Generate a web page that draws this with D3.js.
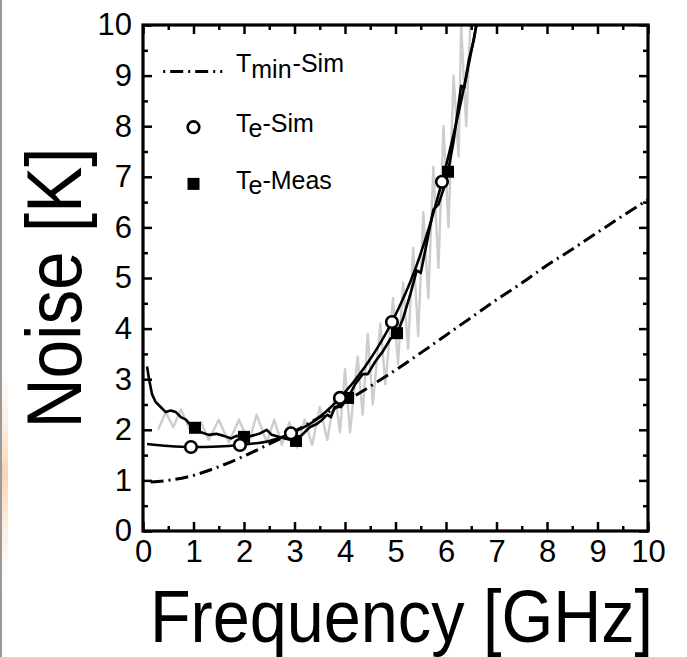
<!DOCTYPE html>
<html>
<head>
<meta charset="utf-8">
<script src="https://cdn.jsdelivr.net/npm/d3@7"></script>
<style>
  html, body { margin: 0; padding: 0; background: #fff; }
  svg { display: block; }
  text { font-family: "Liberation Sans", Arial, Helvetica, sans-serif; fill: #000; }
</style>
</head>
<body>
<svg id="chart" width="687" height="657"></svg>
<script>
// ---------------- DATA ----------------
const freqTicks = [0, 1, 2, 3, 4, 5, 6, 7, 8, 9, 10];
const noiseTicks = [0, 1, 2, 3, 4, 5, 6, 7, 8, 9, 10];
const xLabel = "Frequency [GHz]";
const yLabel = "Noise [K]";

// Tmin-Sim (dash-dot)
const tminFreq = [0.15, 0.5, 1.0, 1.5, 2.0, 2.5, 3.0, 3.5, 4.0, 4.5, 5.0, 5.5, 6.0, 6.5, 7.0, 7.5, 8.0, 8.5, 9.0, 9.5, 10.0];
const tminVal  = [0.97, 1.0, 1.1, 1.27, 1.48, 1.72, 1.97, 2.25, 2.55, 2.86, 3.18, 3.52, 3.87, 4.22, 4.57, 4.9, 5.25, 5.57, 5.9, 6.23, 6.55];

// Te-Sim smooth line
const simFreq = [0.08, 0.5, 0.95, 1.5, 1.92, 2.5, 2.93, 3.4, 3.9, 4.4, 4.93, 5.4, 5.92, 6.3, 6.7];
const simVal  = [1.72, 1.68, 1.66, 1.67, 1.70, 1.78, 1.93, 2.18, 2.63, 3.25, 4.13, 5.2, 6.9, 8.5, 10.5];
// Te-Sim markers
const simMarkFreq = [0.95, 1.92, 2.93, 3.9, 4.93, 5.92];
const simMarkVal  = [1.66, 1.70, 1.93, 2.63, 4.13, 6.9];

// Te-Meas (smoothed measured line)
const measFreq = [0.08, 0.12, 0.18, 0.25, 0.35, 0.45, 0.55, 0.65, 0.75, 0.85, 0.95, 1.03, 1.15, 1.3, 1.45, 1.6, 1.75, 1.85, 2.0, 2.15, 2.3, 2.45, 2.55, 2.7, 2.85, 3.03, 3.15, 3.3, 3.45, 3.55, 3.65, 3.72, 3.8, 3.92, 4.06, 4.2, 4.35, 4.45, 4.6, 4.75, 4.9, 5.03, 5.15, 5.3, 5.42, 5.5, 5.6, 5.75, 5.85, 5.95, 6.04, 6.15, 6.3, 6.36, 6.45, 6.55, 6.65];
const measVal  = [3.25, 3.0, 2.7, 2.55, 2.45, 2.35, 2.38, 2.35, 2.25, 2.2, 2.08, 2.04, 1.95, 1.9, 1.92, 1.88, 1.83, 1.88, 1.86, 1.88, 1.92, 2.0, 1.9, 1.86, 1.82, 1.78, 1.9, 2.05, 2.12, 2.2, 2.3, 2.25, 2.45, 2.45, 2.63, 2.9, 3.1, 3.1, 3.35, 3.55, 3.8, 3.91, 4.2, 4.7, 5.15, 5.1, 5.6, 6.35, 6.45, 6.75, 7.1, 7.7, 8.8, 8.75, 9.3, 9.7, 10.3];
// Te-Meas markers
const measMarkFreq = [1.03, 2.0, 3.03, 4.06, 5.03, 6.04];
const measMarkVal  = [2.04, 1.86, 1.78, 2.63, 3.91, 7.1];

// Raw measured trace (light grey)
const rawFreq = [0.3, 0.45, 0.6, 0.75, 0.95, 1.15, 1.3, 1.5, 1.7, 1.9, 2.1, 2.25, 2.45, 2.6, 2.75, 2.9, 3.05, 3.2, 3.35, 3.5, 3.65, 3.8, 3.9, 4.0, 4.1, 4.25, 4.35, 4.45, 4.55, 4.7, 4.8, 4.95, 5.05, 5.15, 5.25, 5.35, 5.45, 5.55, 5.65, 5.75, 5.85, 5.95, 6.05, 6.15, 6.25, 6.3, 6.4, 6.5];
const rawVal  = [2.0, 2.35, 2.05, 2.4, 1.95, 2.15, 1.8, 2.2, 1.75, 2.2, 1.75, 2.3, 1.75, 2.2, 1.7, 2.15, 1.65, 2.2, 1.7, 2.45, 1.8, 2.7, 1.95, 3.2, 1.95, 3.45, 2.3, 3.9, 2.5, 4.1, 2.9, 4.6, 3.3, 4.9, 3.6, 5.6, 3.85, 6.3, 4.6, 7.2, 5.2, 8.0, 6.0, 9.0, 7.4, 10.0, 8.0, 10.5];

// Legend
const legendLabels = ["T", "min", "-Sim", "e", "-Meas"];

// ---------------- LAYOUT ----------------
const svg = d3.select("#chart");
const plot = { left: 143, right: 648, top: 25, bottom: 531 };

const x = d3.scaleLinear().domain([0, 10]).range([plot.left, plot.right]);
const y = d3.scaleLinear().domain([0, 10]).range([plot.bottom, plot.top]);

// left edge artifacts of scanned figure
const defs = svg.append("defs");
const grad = defs.append("linearGradient").attr("id", "edgeGlow")
  .attr("x1", 0).attr("x2", 0).attr("y1", 0).attr("y2", 1);
grad.append("stop").attr("offset", "0%").attr("stop-color", "#fbe3cf").attr("stop-opacity", 0);
grad.append("stop").attr("offset", "50%").attr("stop-color", "#f6c9a4").attr("stop-opacity", 0.8);
grad.append("stop").attr("offset", "100%").attr("stop-color", "#fbe3cf").attr("stop-opacity", 0);
svg.append("rect").attr("x", 2).attr("y", 360).attr("width", 6).attr("height", 230).attr("fill", "url(#edgeGlow)");
svg.append("line").attr("x1", 1).attr("x2", 1).attr("y1", 0).attr("y2", 657)
  .attr("stroke", "#9a9a9a").attr("stroke-width", 2);

defs.append("clipPath").attr("id", "clip")
  .append("rect").attr("x", plot.left).attr("y", plot.top)
  .attr("width", plot.right - plot.left).attr("height", plot.bottom - plot.top);

const dataG = svg.append("g").attr("clip-path", "url(#clip)");

const straight = d3.line().x(d => x(d[0])).y(d => y(d[1]));
const smooth = d3.line().x(d => x(d[0])).y(d => y(d[1])).curve(d3.curveMonotoneX);

// raw grey trace
dataG.append("path")
  .datum(d3.zip(rawFreq, rawVal))
  .attr("d", straight)
  .attr("fill", "none").attr("stroke", "#cdcdcd").attr("stroke-width", 2.4)
  .attr("stroke-linejoin", "round");

// Tmin dash-dot
dataG.append("path")
  .datum(d3.zip(tminFreq, tminVal))
  .attr("d", smooth)
  .attr("fill", "none").attr("stroke", "#000").attr("stroke-width", 3)
  .attr("stroke-dasharray", "13,5,2,5");

// Te-Sim smooth line
dataG.append("path")
  .datum(d3.zip(simFreq, simVal))
  .attr("d", smooth)
  .attr("fill", "none").attr("stroke", "#000").attr("stroke-width", 2.6);

// Te-Meas line
dataG.append("path")
  .datum(d3.zip(measFreq, measVal))
  .attr("d", straight)
  .attr("fill", "none").attr("stroke", "#000").attr("stroke-width", 2.6)
  .attr("stroke-linejoin", "round");

// Markers: squares (meas)
dataG.selectAll("rect.meas").data(d3.zip(measMarkFreq, measMarkVal)).enter()
  .append("rect").attr("class", "meas")
  .attr("x", d => x(d[0]) - 6).attr("y", d => y(d[1]) - 6)
  .attr("width", 12).attr("height", 12).attr("fill", "#000");

// Markers: circles (sim)
dataG.selectAll("circle.sim").data(d3.zip(simMarkFreq, simMarkVal)).enter()
  .append("circle").attr("class", "sim")
  .attr("cx", d => x(d[0])).attr("cy", d => y(d[1])).attr("r", 5.8)
  .attr("fill", "#fff").attr("stroke", "#000").attr("stroke-width", 2.6);

// ---------------- AXES / FRAME ----------------
const halfTicks = d3.range(0.5, 10, 1);
function styleAxis(g) {
  g.select(".domain").remove();
  g.selectAll(".tick line").attr("stroke", "#000").attr("stroke-width", 2.5);
}
// bottom with labels
svg.append("g").attr("transform", `translate(0,${plot.bottom})`)
  .call(d3.axisBottom(x).tickValues(freqTicks).tickFormat(d3.format("d")).tickSizeInner(-9).tickSizeOuter(0).tickPadding(9))
  .call(styleAxis)
  .selectAll("text").attr("font-size", 31).attr("font-family", "'Liberation Sans', Arial, sans-serif").attr("fill", "#000");
svg.append("g").attr("transform", `translate(0,${plot.bottom})`)
  .call(d3.axisBottom(x).tickValues(halfTicks).tickFormat("").tickSizeInner(-5).tickSizeOuter(0))
  .call(styleAxis);
// top
svg.append("g").attr("transform", `translate(0,${plot.top})`)
  .call(d3.axisTop(x).tickValues(freqTicks).tickFormat("").tickSizeInner(-9).tickSizeOuter(0))
  .call(styleAxis);
svg.append("g").attr("transform", `translate(0,${plot.top})`)
  .call(d3.axisTop(x).tickValues(halfTicks).tickFormat("").tickSizeInner(-5).tickSizeOuter(0))
  .call(styleAxis);
// left with labels
svg.append("g").attr("transform", `translate(${plot.left},0)`)
  .call(d3.axisLeft(y).tickValues(noiseTicks).tickFormat(d3.format("d")).tickSizeInner(-9).tickSizeOuter(0).tickPadding(11))
  .call(styleAxis)
  .selectAll("text").attr("font-size", 31).attr("font-family", "'Liberation Sans', Arial, sans-serif").attr("fill", "#000");
svg.append("g").attr("transform", `translate(${plot.left},0)`)
  .call(d3.axisLeft(y).tickValues(halfTicks).tickFormat("").tickSizeInner(-5).tickSizeOuter(0))
  .call(styleAxis);
// right
svg.append("g").attr("transform", `translate(${plot.right},0)`)
  .call(d3.axisRight(y).tickValues(noiseTicks).tickFormat("").tickSizeInner(-9).tickSizeOuter(0))
  .call(styleAxis);
svg.append("g").attr("transform", `translate(${plot.right},0)`)
  .call(d3.axisRight(y).tickValues(halfTicks).tickFormat("").tickSizeInner(-5).tickSizeOuter(0))
  .call(styleAxis);

// frame
svg.append("rect").attr("x", plot.left).attr("y", plot.top)
  .attr("width", plot.right - plot.left).attr("height", plot.bottom - plot.top)
  .attr("fill", "none").attr("stroke", "#000").attr("stroke-width", 3.2);

// ---------------- AXIS TITLES ----------------
svg.append("text")
  .attr("transform", `translate(${(plot.left + plot.right) / 2 + 6},642) scale(0.9,1)`)
  .attr("text-anchor", "middle").attr("font-size", 74).text(xLabel);
svg.append("text")
  .attr("transform", `translate(81,288) rotate(-90) scale(0.9,1)`)
  .attr("text-anchor", "middle").attr("font-size", 77).text(yLabel);

// ---------------- LEGEND ----------------
const leg = svg.append("g");
leg.append("line").attr("x1", x(0.4)).attr("x2", x(1.57)).attr("y1", y(9.08)).attr("y2", y(9.08))
  .attr("stroke", "#000").attr("stroke-width", 3).attr("stroke-dasharray", "2,5,13,5");
const t1 = leg.append("text").attr("x", 236).attr("y", 72).attr("font-size", 25);
t1.append("tspan").text(legendLabels[0]);
t1.append("tspan").attr("dy", 6).text(legendLabels[1]);
t1.append("tspan").attr("dx", 1).attr("dy", -6).text(legendLabels[2]);

leg.append("circle").attr("cx", x(1.0)).attr("cy", y(7.98)).attr("r", 5.8)
  .attr("fill", "#fff").attr("stroke", "#000").attr("stroke-width", 2.6);
const t2 = leg.append("text").attr("x", 236).attr("y", 132).attr("font-size", 25);
t2.append("tspan").text(legendLabels[0]);
t2.append("tspan").attr("dy", 5).text(legendLabels[3]);
t2.append("tspan").attr("dy", -5).text(legendLabels[2]);

leg.append("rect").attr("x", x(1.0) - 6).attr("y", y(6.86) - 6).attr("width", 12).attr("height", 12).attr("fill", "#000");
const t3 = leg.append("text").attr("x", 236).attr("y", 189).attr("font-size", 25);
t3.append("tspan").text(legendLabels[0]);
t3.append("tspan").attr("dy", 5).text(legendLabels[3]);
t3.append("tspan").attr("dy", -5).text(legendLabels[4]);
</script>
</body>
</html>
